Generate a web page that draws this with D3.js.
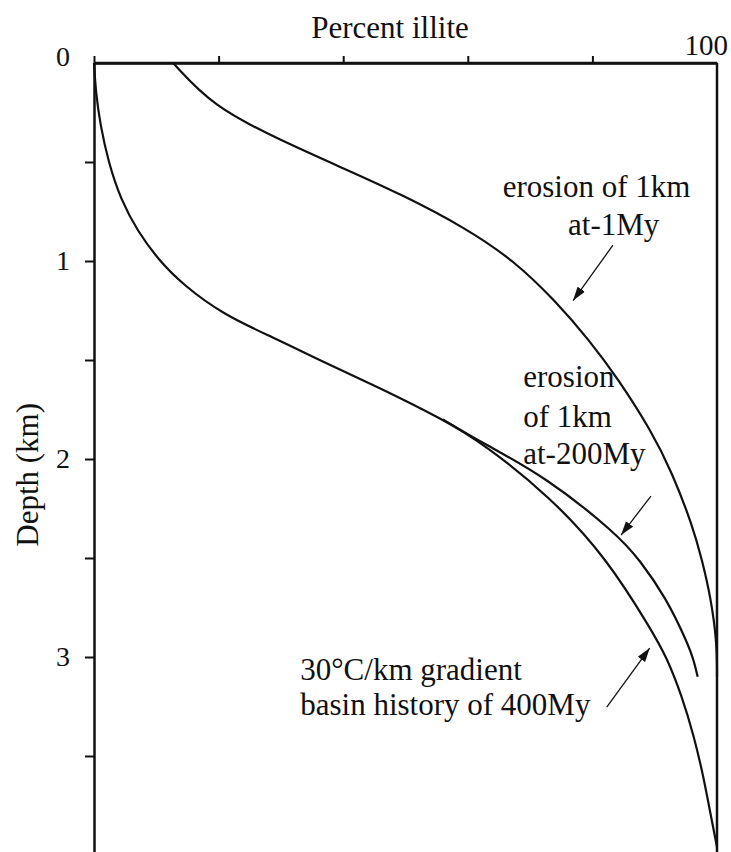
<!DOCTYPE html>
<html>
<head>
<meta charset="utf-8">
<script src="https://cdn.jsdelivr.net/npm/d3@7"></script>
<style>
  body { margin: 0; background: #fff; }
  text { font-family: "Liberation Serif", "Times New Roman", serif; fill: #111; }
</style>
</head>
<body>
<svg id="chart"></svg>
<script>
var width = 731;
var height = 852;
var serif = "Liberation Serif, Times New Roman, serif";

// curve A: erosion of 1km at -1My
var depthA  = [0, 0.22, 0.39, 0.54, 0.66, 0.83, 1.0, 1.2, 1.4, 1.59, 1.86, 2.07, 2.33, 2.51, 2.7, 2.93, 3.1];
var illiteA = [12.7, 19.1, 29.9, 40.6, 49.1, 59.5, 67.5, 74.0, 79.5, 84.0, 89.5, 92.8, 96.0, 97.6, 99.0, 100, 100];

// curve B: 30°C/km gradient, basin history of 400My
var depthB  = [0, 0.15, 0.31, 0.5, 0.69, 0.85, 1.0, 1.12, 1.27, 1.39, 1.49, 1.64, 1.8, 1.92, 2.19, 2.5, 2.87, 3.0, 3.2, 3.4, 3.6, 3.8, 3.96];
var illiteB = [0, 0.3, 1.0, 2.3, 4.3, 7.0, 10.5, 14.3, 20.7, 29.0, 35.5, 45.8, 56.0, 62.4, 73.2, 82.3, 89.6, 91.9, 94.4, 96.3, 97.8, 99.0, 100];

// curve C: erosion of 1km at -200My (leaves curve B near 1.9 km)
var depthC  = [1.8, 1.92, 2.09, 2.38, 2.51, 2.7, 2.93, 3.02, 3.1];
var illiteC = [56.0, 62.4, 72.5, 84.0, 87.6, 91.8, 95.3, 96.3, 96.9];

var xTicks = [0, 20, 40, 60, 80];
var yTicks = [0.5, 1, 1.5, 2, 2.5, 3, 3.5];

var svg = d3.select("#chart").attr("width", width).attr("height", height);

var x = d3.scaleLinear().domain([0, 100]).range([94, 717]);
var y = d3.scaleLinear().domain([0, 4]).range([63, 855]);

// arrow head
svg.append("defs").append("marker")
    .attr("id", "head")
    .attr("markerUnits", "userSpaceOnUse")
    .attr("viewBox", "0 -5 14 10")
    .attr("refX", 14).attr("refY", 0)
    .attr("markerWidth", 14).attr("markerHeight", 10)
    .attr("orient", "auto")
  .append("path")
    .attr("d", "M0,-4.5L14,0L0,4.5Z")
    .attr("fill", "#111");

// top axis
svg.append("g")
    .attr("transform", "translate(0," + y(0) + ")")
    .call(d3.axisTop(x).tickValues(xTicks).tickSize(7).tickSizeOuter(0).tickFormat(""));
svg.append("line")
    .attr("x1", x(0)).attr("x2", x(100))
    .attr("y1", y(0)).attr("y2", y(0))
    .attr("stroke", "#111").attr("stroke-width", 2.5);

// left axis
var yAxis = svg.append("g")
    .attr("transform", "translate(" + x(0) + ",0)")
    .call(d3.axisLeft(y).tickValues(yTicks).tickSize(9).tickSizeOuter(0).tickPadding(15)
        .tickFormat(function(d) { return d % 1 === 0 ? d : ""; }));

// right axis
svg.append("line")
    .attr("x1", x(100)).attr("x2", x(100))
    .attr("y1", y(0)).attr("y2", y(4))
    .attr("stroke", "#111").attr("stroke-width", 2.5);

svg.selectAll(".domain").attr("stroke", "#111").attr("stroke-width", 2.5);
svg.selectAll(".tick line").attr("stroke", "#111").attr("stroke-width", 2);
yAxis.selectAll(".tick text")
    .style("font-family", serif)
    .style("font-size", "28px")
    .attr("fill", "#111");

// shared corner label and the 100 label
svg.append("text")
    .attr("x", x(0) - 24).attr("y", y(0) + 3)
    .attr("text-anchor", "end")
    .style("font-family", serif)
    .style("font-size", "28px")
    .text("0");
svg.append("text")
    .attr("x", x(100) + 11).attr("y", y(0) - 8)
    .attr("text-anchor", "end")
    .style("font-family", serif)
    .style("font-size", "29px")
    .text("100");

// axis titles
svg.append("text")
    .attr("x", 390).attr("y", 38)
    .attr("text-anchor", "middle")
    .style("font-family", serif)
    .style("font-size", "31px")
    .text("Percent illite");
svg.append("text")
    .attr("transform", "translate(38," + y(2.08) + ") rotate(-90)")
    .attr("text-anchor", "middle")
    .style("font-family", serif)
    .style("font-size", "31px")
    .text("Depth (km)");

// curves
var line = d3.line()
    .x(function(d) { return x(d[1]); })
    .y(function(d) { return y(d[0]); })
    .curve(d3.curveBasis);

var curves = [
    d3.zip(depthA, illiteA),
    d3.zip(depthB, illiteB),
    d3.zip(depthC, illiteC)
];

svg.append("g").selectAll("path")
    .data(curves)
    .enter()
    .append("path")
    .attr("d", line)
    .attr("fill", "none")
    .attr("stroke", "#111")
    .attr("stroke-width", 2.2);

// annotations, in data units (percent, depth)
var notes = [
    {t: "erosion of 1km", p: 65.6, d: 0.677},
    {t: "at-1My", p: 76.1, d: 0.869},
    {t: "erosion", p: 68.9, d: 1.636},
    {t: "of 1km", p: 68.9, d: 1.838},
    {t: "at-200My", p: 68.9, d: 2.025},
    {t: "30°C/km gradient", p: 33.1, d: 3.116},
    {t: "basin history of 400My", p: 33.1, d: 3.293}
];

svg.append("g").selectAll("text")
    .data(notes)
    .enter()
    .append("text")
    .attr("x", function(d) { return x(d.p); })
    .attr("y", function(d) { return y(d.d); })
    .style("font-family", serif)
    .style("font-size", "31px")
    .text(function(d) { return d.t; });

var arrows = [
    {p1: 83.3, d1: 0.92, p2: 76.9, d2: 1.2},
    {p1: 89.4, d1: 2.187, p2: 84.6, d2: 2.384},
    {p1: 82.3, d1: 3.253, p2: 89.2, d2: 2.955}
];

svg.append("g").selectAll("line")
    .data(arrows)
    .enter()
    .append("line")
    .attr("x1", function(d) { return x(d.p1); })
    .attr("y1", function(d) { return y(d.d1); })
    .attr("x2", function(d) { return x(d.p2); })
    .attr("y2", function(d) { return y(d.d2); })
    .attr("stroke", "#111")
    .attr("stroke-width", 1.3)
    .attr("marker-end", "url(#head)");
</script>
</body>
</html>
